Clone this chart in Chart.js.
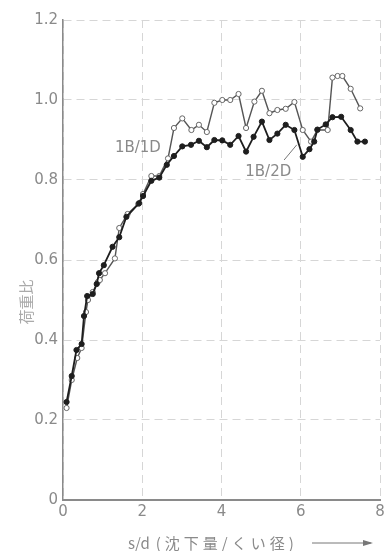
<!DOCTYPE html>
<html>
<head>
<meta charset="utf-8">
<script src="https://cdn.jsdelivr.net/npm/chart.js@4.4.1/dist/chart.umd.min.js"></script>
<style>
  html, body { margin: 0; padding: 0; background: #fff; }
  #wrap { width: 385px; height: 551px; }
</style>
</head>
<body>
<div id="wrap"><canvas id="chart"></canvas></div>
<script>
// tick values
const xTicks = [0, 2, 4, 6, 8];
const yTicks = [0, 0.2, 0.4, 0.6, 0.8, 1.0, 1.2];

// 1B/1D (open circles)
const x1B1D = [0.09, 0.22, 0.36, 0.47, 0.58, 0.63, 0.75, 0.88, 0.93, 1.06, 1.31, 1.42, 1.63, 1.9, 2.02, 2.23, 2.43, 2.65, 2.8, 3.01, 3.24, 3.43, 3.63, 3.82, 4.02, 4.22, 4.43, 4.62, 4.83, 5.02, 5.21, 5.41, 5.62, 5.84, 6.05, 6.26, 6.42, 6.68, 6.8, 6.93, 7.05, 7.26, 7.5];
const y1B1D = [0.23, 0.3, 0.355, 0.38, 0.47, 0.5, 0.52, 0.545, 0.55, 0.567, 0.604, 0.68, 0.715, 0.74, 0.765, 0.81, 0.81, 0.854, 0.93, 0.954, 0.925, 0.938, 0.92, 0.993, 1.0, 1.0, 1.015, 0.93, 0.996, 1.023, 0.967, 0.975, 0.978, 0.995, 0.925, 0.896, 0.925, 0.925, 1.056, 1.06, 1.06, 1.028, 0.979];

// 1B/2D (filled circles)
const x1B2D = [0.09, 0.22, 0.34, 0.47, 0.53, 0.61, 0.75, 0.85, 0.91, 1.03, 1.25, 1.42, 1.6, 1.92, 2.02, 2.23, 2.43, 2.62, 2.8, 3.01, 3.23, 3.43, 3.63, 3.82, 4.02, 4.22, 4.43, 4.62, 4.81, 5.02, 5.21, 5.41, 5.62, 5.84, 6.05, 6.22, 6.34, 6.42, 6.63, 6.8, 7.02, 7.26, 7.43, 7.62];
const y1B2D = [0.245, 0.31, 0.375, 0.39, 0.46, 0.51, 0.515, 0.54, 0.567, 0.587, 0.633, 0.657, 0.708, 0.742, 0.76, 0.798, 0.806, 0.838, 0.86, 0.884, 0.888, 0.898, 0.882, 0.9, 0.899, 0.888, 0.91, 0.871, 0.908, 0.946, 0.9, 0.916, 0.938, 0.925, 0.858, 0.877, 0.896, 0.926, 0.939, 0.957, 0.958, 0.925, 0.896, 0.896];

const seriesNames = ['1B/1D', '1B/2D'];
const yTitle = '荷重比';
const xTitle = 's/d(沈下量/くい径)';

const toPoints = (xs, ys) => xs.map((x, i) => ({ x: x, y: ys[i] }));

const labelColor = '#8a8a8a';

// series labels, axis titles and the leader line
const notes = {
  id: 'notes',
  afterDraw(chart) {
    const { ctx, chartArea } = chart;
    const xs = chart.scales.x, ys = chart.scales.y;
    ctx.save();
    ctx.fillStyle = labelColor;
    ctx.strokeStyle = '#777';
    ctx.textAlign = 'center';
    ctx.textBaseline = 'middle';
    ctx.font = '15px "DejaVu Sans"';
    ctx.fillText(seriesNames[0], xs.getPixelForValue(1.89), ys.getPixelForValue(0.88));
    ctx.fillText(seriesNames[1], xs.getPixelForValue(5.18), ys.getPixelForValue(0.82));

    ctx.lineWidth = 1;
    ctx.beginPath();
    ctx.moveTo(xs.getPixelForValue(5.58), ys.getPixelForValue(0.85));
    ctx.lineTo(xs.getPixelForValue(5.9), ys.getPixelForValue(0.888));
    ctx.stroke();

    // y title
    ctx.save();
    ctx.translate(chartArea.left - 37, ys.getPixelForValue(0.495));
    ctx.rotate(-Math.PI / 2);
    ctx.fillStyle = '#aaa';
    ctx.font = '15px "Noto Sans CJK JP"';
    ctx.fillText(yTitle, 0, 0);
    ctx.restore();

    // x title + arrow
    const ty = 543;
    ctx.textAlign = 'left';
    ctx.font = '15px "Noto Sans CJK JP"';
    ctx.fillText('s/d', 128, ty);
    ctx.letterSpacing = '4px';
    ctx.fillText(xTitle.slice(3), 128 + ctx.measureText('s/d').width - 6, ty);
    ctx.letterSpacing = '0px';
    ctx.beginPath();
    ctx.moveTo(312, ty);
    ctx.lineTo(371, ty);
    ctx.stroke();
    ctx.beginPath();
    ctx.moveTo(373, ty);
    ctx.lineTo(363, ty - 3);
    ctx.lineTo(363, ty + 3);
    ctx.closePath();
    ctx.fillStyle = '#777';
    ctx.fill();
    ctx.restore();
  }
};

new Chart(document.getElementById('chart'), {
  type: 'scatter',
  data: {
    datasets: [
      {
        label: seriesNames[1],
        data: toPoints(x1B2D, y1B2D),
        showLine: true,
        borderColor: '#1e1e1e',
        borderWidth: 1.8,
        pointRadius: 2.6,
        pointBackgroundColor: '#1e1e1e',
        pointBorderColor: '#1e1e1e',
        pointBorderWidth: 1
      },
      {
        label: seriesNames[0],
        data: toPoints(x1B1D, y1B1D),
        showLine: true,
        borderColor: '#555',
        borderWidth: 1.4,
        pointRadius: 2.6,
        pointBackgroundColor: '#fff',
        pointBorderColor: '#666',
        pointBorderWidth: 1
      }
    ]
  },
  options: {
    responsive: true,
    maintainAspectRatio: false,
    animation: false,
    layout: { padding: { top: 20, right: 5, left: 0, bottom: 0 } },
    plugins: { legend: { display: false }, tooltip: { enabled: false } },
    scales: {
      x: {
        type: 'linear',
        min: 0,
        max: 8,
        afterBuildTicks: s => { s.ticks = xTicks.map(v => ({ value: v })); },
        afterFit: s => { s.height = 51; s.paddingRight = 0; s.paddingLeft = 0; },
        grid: { color: '#d6d6d6', lineWidth: 1, drawTicks: false },
        border: { color: '#8a8a8a', width: 2, dash: [8, 5] },
        ticks: { color: labelColor, padding: 3, font: { family: 'DejaVu Sans', size: 15 }, callback: v => String(v) }
      },
      y: {
        type: 'linear',
        min: 0,
        max: 1.2,
        afterBuildTicks: s => { s.ticks = yTicks.map(v => ({ value: v })); },
        afterFit: s => { s.width = 63; },
        grid: { color: '#d6d6d6', lineWidth: 1, drawTicks: false },
        border: { color: '#8a8a8a', width: 1.5, dash: [8, 5] },
        ticks: { color: labelColor, padding: 5, font: { family: 'DejaVu Sans', size: 15 }, callback: v => v === 0 ? '0' : v.toFixed(1) }
      }
    }
  },
  plugins: [notes]
});
</script>
</body>
</html>
